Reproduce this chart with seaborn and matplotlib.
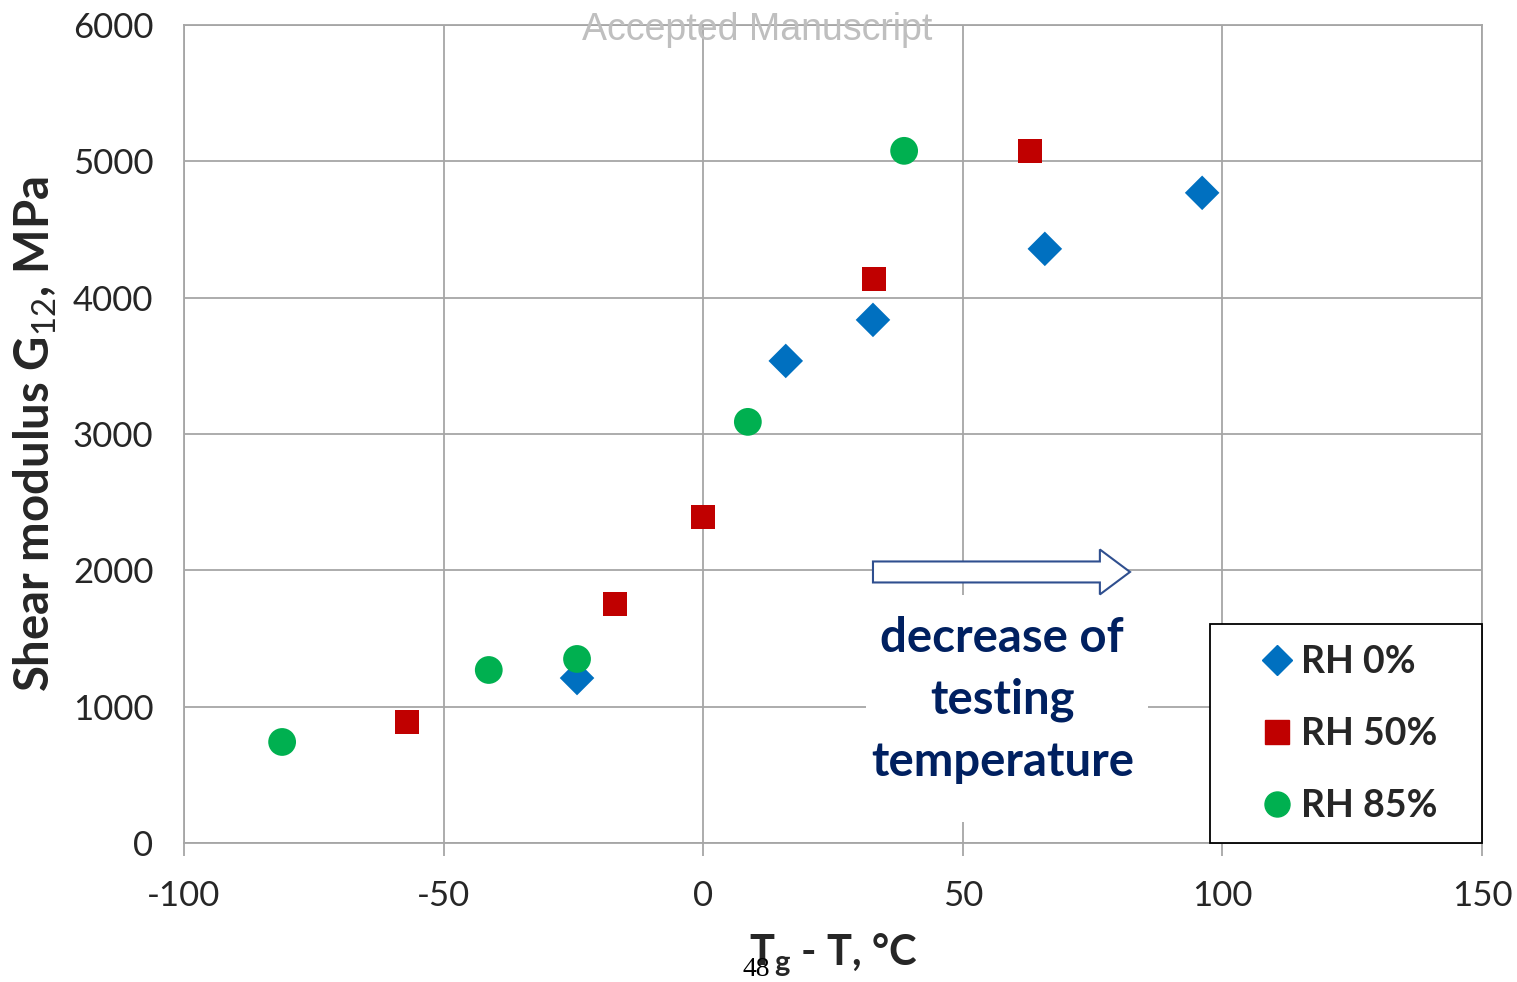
import matplotlib
matplotlib.use("Agg")
import matplotlib.pyplot as plt
import matplotlib.patches as mpatches
from matplotlib.lines import Line2D
import seaborn as sns
import pandas as pd

# values
rh0_x = [-24.3, 15.9, 32.7, 65.8, 96.1]
rh0_y = [1210, 3536, 3837, 4358, 4769]
rh50_x = [-57.1, -17.0, 0.0, 32.9, 62.9]
rh50_y = [888, 1753, 2392, 4138, 5077]
rh85_x = [-81.1, -41.3, -24.3, 8.6, 38.7]
rh85_y = [741, 1269, 1350, 3089, 5077]

series_names = ['RH 0%', 'RH 50%', 'RH 85%']
series_colors = ['#0070C0', '#C00000', '#00B050']
series_markers = ['D', 's', 'o']
series_sizes = [310, 290, 400]

x_ticks = [-100, -50, 0, 50, 100, 150]
y_ticks = [0, 1000, 2000, 3000, 4000, 5000, 6000]

df = pd.DataFrame({
    'x': rh0_x + rh50_x + rh85_x,
    'y': rh0_y + rh50_y + rh85_y,
    'series': ['RH 0%'] * 5 + ['RH 50%'] * 5 + ['RH 85%'] * 5,
})

sns.set_style('white')
plt.rcParams['font.family'] = ['Lato', 'DejaVu Sans']
plt.rcParams['axes.unicode_minus'] = False
plt.rcParams['mathtext.fontset'] = 'custom'
plt.rcParams['mathtext.rm'] = 'Lato'
plt.rcParams['mathtext.bf'] = 'Lato:bold'
plt.rcParams['mathtext.it'] = 'Lato:italic'

grid_col = '#A6A6A6'
navy = '#002060'

fig = plt.figure(figsize=(15.17, 9.82), dpi=100)
ax = fig.add_axes([184 / 1517, 1 - 843 / 982, 1298 / 1517, 818 / 982])

for name, col, mk, sz in zip(series_names, series_colors, series_markers, series_sizes):
    sub = df[df['series'] == name]
    sns.scatterplot(data=sub, x='x', y='y', color=col, marker=mk, s=sz,
                    edgecolor='none', linewidth=0, ax=ax, zorder=5, legend=False)

ax.set_xlim(-100, 150)
ax.set_ylim(0, 6000)
ax.set_xticks(x_ticks)
ax.set_yticks(y_ticks)
ax.grid(True, color=grid_col, linewidth=1.3)
ax.set_axisbelow(True)
for sp in ax.spines.values():
    sp.set_color(grid_col)
    sp.set_linewidth(1.3)
ax.tick_params(axis='x', length=9, width=1.3, color=grid_col, labelsize=25, pad=18, direction='out')
ax.tick_params(axis='y', length=0, labelsize=25, pad=22)
ax.tick_params(bottom=True)

ax.set_xlabel(r'T$_\mathbf{g}$ - T, °C', fontsize=30, fontweight='bold', labelpad=14)
ax.set_ylabel(r'Shear modulus G$_\mathrm{12}$, MPa', fontsize=34, fontweight='bold', labelpad=10)

# white box behind annotation text
ax.add_patch(mpatches.Rectangle((31.4, 154), 54.3, 1666, facecolor='white',
                                edgecolor='none', zorder=2))
ax.text(57.6, 1050, 'decrease of\ntesting\ntemperature', ha='center', va='center',
        fontsize=34, fontweight='bold', color=navy, linespacing=1.5, zorder=3)

# hollow arrow
ax.add_patch(mpatches.FancyArrow(32.7, 1988, 43.7, 0, width=154, head_width=330,
                                 head_length=5.8, length_includes_head=False,
                                 facecolor='white', edgecolor='#2F4F8F',
                                 linewidth=1.5, zorder=4))

# legend box
ax.add_patch(mpatches.Rectangle((0.7905, 0.0), 0.2095, 0.268, transform=ax.transAxes,
                                facecolor='white', edgecolor='black', linewidth=1.3,
                                zorder=6, clip_on=False))
handles = [Line2D([], [], linestyle='none', marker=m, color=c, markersize=ms)
           for m, c, ms in zip(series_markers, series_colors, [15, 17, 18])]
leg = ax.legend(handles, series_names, loc='center',
                bbox_to_anchor=(0.7905 + 0.2095 / 2 + 0.003, 0.133),
                frameon=False, borderpad=0, labelspacing=1.02,
                handlelength=0.8, handletextpad=0.25, borderaxespad=0,
                prop={'size': 27, 'weight': 'bold'})
leg.set_zorder(7)

fig.text(757 / 1517, 1 - 30 / 982, 'Accepted Manuscript', ha='center', va='center',
         fontsize=27, color='#BFBFBF', family='Liberation Sans')
fig.text(756 / 1517, 0.0, '48', ha='center', va='bottom', fontsize=20,
         color='black', family='Liberation Serif')

fig.savefig('out.png', dpi=100)
